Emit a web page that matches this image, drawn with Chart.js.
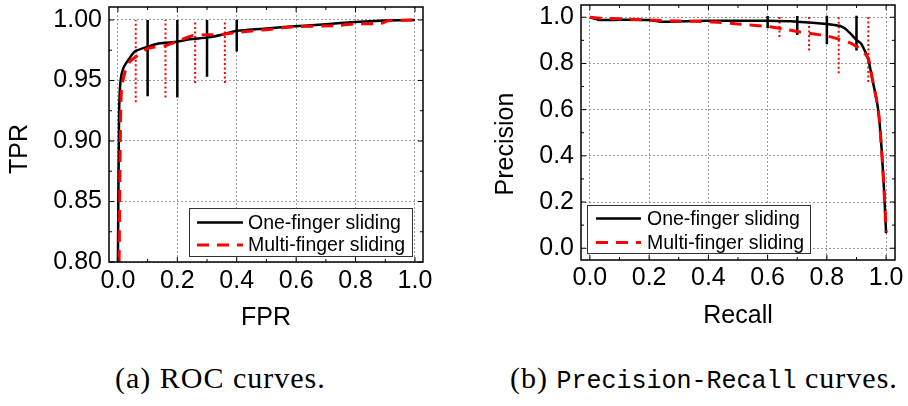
<!DOCTYPE html>
<html>
<head>
<meta charset="utf-8">
<script src="https://cdn.jsdelivr.net/npm/chart.js@4.4.1/dist/chart.umd.min.js"></script>
<style>
html,body{margin:0;padding:0;background:#fff;}
body{width:908px;height:406px;position:relative;overflow:hidden;}
canvas{position:absolute;top:0;}
#roc{left:0;}
#pr{left:454px;}
.cap{position:absolute;top:363px;font-family:"Liberation Serif",serif;font-size:30px;line-height:30px;white-space:nowrap;color:#000;letter-spacing:1px;}
.cap .tt{font-family:"Liberation Mono",monospace;font-size:25px;letter-spacing:0;}
</style>
</head>
<body>
<canvas id="roc" width="454" height="340"></canvas>
<canvas id="pr" width="454" height="340"></canvas>
<div class="cap" id="capA" style="left:115px;">(a) ROC curves.</div>
<div class="cap" id="capB" style="left:510px;">(b) <span class="tt">Precision-Recall</span> curves.</div>
<script>
// ---------- DATA ----------
const SERIES_NAMES = ['One-finger sliding', 'Multi-finger sliding'];

// ROC curves
const ROC_ONE_FPR   = [0.000, 0.004, 0.009, 0.018, 0.035, 0.057, 0.102, 0.141, 0.200, 0.240, 0.300, 0.350, 0.400, 0.500, 0.580, 0.700, 0.800, 0.900, 1.000];
const ROC_ONE_TPR   = [0.800, 0.923, 0.950, 0.960, 0.967, 0.974, 0.978, 0.9807, 0.982, 0.984, 0.9854, 0.9877, 0.991, 0.993, 0.9945, 0.9965, 0.9983, 0.9995, 1.000];
const ROC_MULTI_FPR = [0.004, 0.008, 0.012, 0.024, 0.040, 0.063, 0.102, 0.160, 0.200, 0.250, 0.300, 0.350, 0.400, 0.500, 0.600, 0.730, 0.800, 0.885, 0.910, 1.000];
const ROC_MULTI_TPR = [0.800, 0.900, 0.9435, 0.957, 0.9655, 0.970, 0.9766, 0.9788, 0.9824, 0.9870, 0.9878, 0.9880, 0.9897, 0.9920, 0.9945, 0.9953, 0.9967, 0.9972, 0.9994, 1.000];
const ROC_ONE_ERR_X    = [0.10, 0.20, 0.30, 0.40];
const ROC_ONE_ERR_LO   = [0.937, 0.936, 0.953, 0.974];
const ROC_ONE_ERR_HI   = [1.000, 1.000, 1.000, 1.000];
const ROC_MULTI_ERR_X  = [0.06, 0.16, 0.26, 0.36];
const ROC_MULTI_ERR_LO = [0.932, 0.936, 0.948, 0.948];
const ROC_MULTI_ERR_HI = [1.000, 1.000, 1.000, 1.000];
const ROC_X_TICKS  = [0, 0.2, 0.4, 0.6, 0.8, 1.0];
const ROC_X_LABELS = ['0.0', '0.2', '0.4', '0.6', '0.8', '1.0'];
const ROC_Y_TICKS  = [0.80, 0.85, 0.90, 0.95, 1.00];
const ROC_Y_LABELS = ['0.80', '0.85', '0.90', '0.95', '1.00'];

// Precision-Recall curves
const PR_ONE_REC    = [0.000, 0.034, 0.100, 0.197, 0.236, 0.300, 0.400, 0.500, 0.600, 0.700, 0.800, 0.845, 0.860, 0.879, 0.900, 0.917, 0.940, 0.954, 0.968, 0.976, 0.985, 0.993, 1.000];
const PR_ONE_PREC   = [1.000, 0.988, 0.989, 0.988, 0.981, 0.982, 0.985, 0.985, 0.985, 0.981, 0.971, 0.962, 0.952, 0.930, 0.902, 0.884, 0.815, 0.728, 0.642, 0.570, 0.426, 0.252, 0.065];
const PR_MULTI_REC  = [0.000, 0.034, 0.100, 0.200, 0.300, 0.400, 0.500, 0.600, 0.650, 0.700, 0.745, 0.800, 0.840, 0.884, 0.920, 0.940, 0.954, 0.968, 0.976, 0.985, 0.993, 1.000];
const PR_MULTI_PREC = [1.000, 0.996, 0.993, 0.988, 0.984, 0.981, 0.971, 0.960, 0.950, 0.938, 0.930, 0.919, 0.905, 0.886, 0.855, 0.822, 0.730, 0.640, 0.570, 0.420, 0.250, 0.070];
const PR_ONE_ERR_X    = [0.60, 0.70, 0.80, 0.90];
const PR_ONE_ERR_LO   = [0.952, 0.923, 0.883, 0.856];
const PR_ONE_ERR_HI   = [1.005, 1.005, 1.006, 1.006];
const PR_MULTI_ERR_X  = [0.64, 0.74, 0.84, 0.94];
const PR_MULTI_ERR_LO = [0.914, 0.856, 0.758, 0.720];
const PR_MULTI_ERR_HI = [1.006, 1.006, 1.006, 1.006];
const PR_X_TICKS  = [0, 0.2, 0.4, 0.6, 0.8, 1.0];
const PR_X_LABELS = ['0.0', '0.2', '0.4', '0.6', '0.8', '1.0'];
const PR_Y_TICKS  = [0, 0.2, 0.4, 0.6, 0.8, 1.0];
const PR_Y_LABELS = ['0.0', '0.2', '0.4', '0.6', '0.8', '1.0'];

// ---------- HELPERS ----------
const zip = (xs, ys) => xs.map((x, i) => ({x: x, y: ys[i]}));
const bars = (xs, lo, hi) => {
  const pts = [];
  xs.forEach((x, i) => { pts.push({x: x, y: lo[i]}, {x: x, y: hi[i]}, {x: x, y: null}); });
  return pts;
};
const FONT = '"Liberation Sans", Arial, sans-serif';
const AX_SIZE = 25;

const decor = {
  id: 'decor',
  afterDatasetsDraw(chart, args, opts) {
    const {ctx, chartArea: a} = chart;
    const xs = chart.scales.x, ys = chart.scales.y;
    ctx.save();
    // legend box
    const L = opts.legend;
    const bx = L.anchor === 'right' ? a.right - L.dx - L.w : a.left + L.dx;
    const by = a.bottom - L.dy - L.h;
    ctx.fillStyle = '#fff';
    ctx.fillRect(bx, by, L.w, L.h);
    ctx.strokeStyle = '#333';
    ctx.lineWidth = 1;
    ctx.strokeRect(Math.round(bx) + 0.5, Math.round(by) + 0.5, L.w, L.h);
    ctx.font = L.font;
    ctx.textBaseline = 'middle';
    ctx.textAlign = 'left';
    L.items.forEach((ix, k) => {
      const ds = chart.data.datasets[ix];
      const ry = by + L.rows[k];
      ctx.beginPath();
      ctx.setLineDash(ds.borderDash || []);
      ctx.lineWidth = ds.borderWidth;
      ctx.strokeStyle = ds.borderColor;
      ctx.moveTo(bx + L.sx0, ry);
      ctx.lineTo(bx + L.sx1, ry);
      ctx.stroke();
      ctx.setLineDash([]);
      ctx.fillStyle = '#000';
      ctx.fillText(ds.label, bx + L.tx, ry + 1);
    });
    // frame
    ctx.setLineDash([]);
    ctx.strokeStyle = '#000';
    ctx.lineWidth = 1.5;
    ctx.strokeRect(a.left, a.top, a.right - a.left, a.bottom - a.top);
    // inward major + minor ticks on all four sides
    const drawTicks = (scale, horiz) => {
      const major = scale.ticks.map(t => t.value);
      const minor = [];
      for (let i = 0; i < major.length - 1; i++) minor.push((major[i] + major[i + 1]) / 2);
      const one = (v, len) => {
        const p = scale.getPixelForValue(v);
        ctx.beginPath();
        if (horiz) {
          ctx.moveTo(p, a.bottom); ctx.lineTo(p, a.bottom - len);
          ctx.moveTo(p, a.top); ctx.lineTo(p, a.top + len);
        } else {
          ctx.moveTo(a.left, p); ctx.lineTo(a.left + len, p);
          ctx.moveTo(a.right, p); ctx.lineTo(a.right - len, p);
        }
        ctx.stroke();
      };
      ctx.lineWidth = 1;
      major.forEach(v => one(v, 5));
      minor.forEach(v => one(v, 3));
    };
    drawTicks(xs, true);
    drawTicks(ys, false);
    // y-axis title (rotated), placed below the vertical centre as in the original
    const T = opts.yTitle;
    ctx.fillStyle = '#000';
    ctx.font = AX_SIZE + 'px ' + FONT;
    ctx.textAlign = 'center';
    ctx.textBaseline = 'middle';
    ctx.translate(T.x, (a.top + a.bottom) / 2 + T.dy);
    ctx.rotate(-Math.PI / 2);
    ctx.fillText(T.text, 0, 0);
    ctx.restore();
  }
};

function axis(cfg) {
  const horiz = cfg.horiz;
  return {
    type: 'linear',
    min: cfg.min, max: cfg.max,
    afterBuildTicks: s => { s.ticks = cfg.ticks.map(v => ({value: v})); },
    afterFit: s => {
      if (horiz) { s.height = cfg.size; s.paddingLeft = 0; s.paddingRight = 0; }
      else { s.width = cfg.size; s.paddingTop = 0; s.paddingBottom = 0; }
    },
    ticks: {
      callback: (v, i) => cfg.labels[i],
      color: '#000',
      font: {family: FONT, size: AX_SIZE},
      padding: cfg.tickPad,
      maxRotation: 0, minRotation: 0,
      autoSkip: false
    },
    grid: {color: '#9a9a9a', lineWidth: 1, drawTicks: false},
    border: {display: false, dash: [2, 2]},
    title: {
      display: horiz, text: cfg.title, color: '#000',
      font: {family: FONT, size: AX_SIZE},
      padding: {top: 0, bottom: cfg.titlePad || 0}
    }
  };
}

function curveDs(label, data, dashed, order) {
  return {
    label: label, data: data,
    borderColor: dashed ? '#ff0000' : '#000000',
    borderWidth: dashed ? 3 : 2.5,
    borderDash: dashed ? [12, 8] : [],
    pointRadius: 0, fill: false, tension: 0.2,
    order: order
  };
}
function barDs(label, data, dotted) {
  return {
    label: label, data: data,
    borderColor: dotted ? '#ff0000' : '#000000',
    borderWidth: dotted ? 2 : 2.5,
    borderDash: dotted ? [2, 2.5] : [],
    borderCapStyle: 'butt',
    pointRadius: 0, fill: false, spanGaps: false, tension: 0,
    order: 2
  };
}

function makeChart(id, c) {
  return new Chart(document.getElementById(id), {
    type: 'line',
    data: {
      datasets: [
        curveDs(SERIES_NAMES[0], c.one, false, 1),
        curveDs(SERIES_NAMES[1], c.multi, true, 0),
        barDs(SERIES_NAMES[0] + ' error', c.oneErr, false),
        barDs(SERIES_NAMES[1] + ' error', c.multiErr, true)
      ]
    },
    options: {
      responsive: false, animation: false, devicePixelRatio: 1,
      layout: {padding: c.pad},
      plugins: {
        legend: {display: false}, tooltip: {enabled: false},
        decor: {legend: c.legend, yTitle: c.yTitle}
      },
      scales: {x: axis(c.x), y: axis(c.y)}
    },
    plugins: [decor]
  });
}

makeChart('roc', {
  one: zip(ROC_ONE_FPR, ROC_ONE_TPR),
  multi: zip(ROC_MULTI_FPR, ROC_MULTI_TPR),
  oneErr: bars(ROC_ONE_ERR_X, ROC_ONE_ERR_LO, ROC_ONE_ERR_HI),
  multiErr: bars(ROC_MULTI_ERR_X, ROC_MULTI_ERR_LO, ROC_MULTI_ERR_HI),
  pad: {left: 0, top: 7, right: 31, bottom: 0},
  x: {horiz: true, min: -0.03, max: 1.027, ticks: ROC_X_TICKS, labels: ROC_X_LABELS, size: 78, tickPad: 4, title: 'FPR', titlePad: 7},
  y: {horiz: false, min: 0.80, max: 1.0107, ticks: ROC_Y_TICKS, labels: ROC_Y_LABELS, size: 109, tickPad: 7},
  yTitle: {text: 'TPR', x: 20, dy: 14.5},
  legend: {anchor: 'right', dx: 11, dy: 6, w: 223, h: 48, rows: [14.5, 37], sx0: 8, sx1: 54, tx: 59, font: '19.5px ' + FONT, items: [0, 1]}
});

makeChart('pr', {
  one: zip(PR_ONE_REC, PR_ONE_PREC),
  multi: zip(PR_MULTI_REC, PR_MULTI_PREC),
  oneErr: bars(PR_ONE_ERR_X, PR_ONE_ERR_LO, PR_ONE_ERR_HI),
  multiErr: bars(PR_MULTI_ERR_X, PR_MULTI_ERR_LO, PR_MULTI_ERR_HI),
  pad: {left: 0, top: 5, right: 13, bottom: 0},
  x: {horiz: true, min: -0.03, max: 1.03, ticks: PR_X_TICKS, labels: PR_X_LABELS, size: 80, tickPad: 3, title: 'Recall', titlePad: 9},
  y: {horiz: false, min: -0.051, max: 1.053, ticks: PR_Y_TICKS, labels: PR_Y_LABELS, size: 127, tickPad: 7},
  yTitle: {text: 'Precision', x: 52, dy: 11.5},
  legend: {anchor: 'left', dx: 6, dy: 7, w: 223, h: 48, rows: [13.5, 37.5], sx0: 9, sx1: 54, tx: 60, font: '19.5px ' + FONT, items: [0, 1]}
});
</script>
</body>
</html>
